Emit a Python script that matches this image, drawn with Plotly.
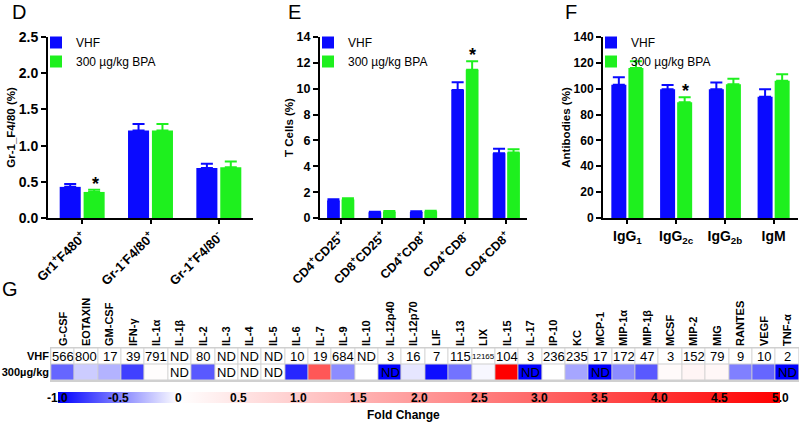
import plotly.graph_objects as go

# ---------------- data ----------------
D_cats = ["Gr1<sup>+</sup>F480<sup>+</sup>", "Gr-1<sup>-</sup>F4/80<sup>+</sup>", "Gr-1<sup>+</sup>F4/80<sup>-</sup>"]
D_vhf = [0.43, 1.21, 0.69]
D_vhf_err = [0.04, 0.09, 0.06]
D_bpa = [0.36, 1.21, 0.70]
D_bpa_err = [0.03, 0.09, 0.08]

E_cats = ["CD4<sup>+</sup>CD25<sup>+</sup>", "CD8<sup>+</sup>CD25<sup>+</sup>", "CD4<sup>+</sup>CD8<sup>+</sup>",
          "CD4<sup>+</sup>CD8<sup>-</sup>", "CD4<sup>-</sup>CD8<sup>+</sup>"]
E_vhf = [1.35, 0.44, 0.47, 9.9, 5.0]
E_vhf_err = [0.1, 0.05, 0.05, 0.6, 0.35]
E_bpa = [1.43, 0.49, 0.52, 11.46, 5.06]
E_bpa_err = [0.1, 0.05, 0.05, 0.67, 0.25]

F_cats = ["IgG<sub>1</sub>", "IgG<sub>2c</sub>", "IgG<sub>2b</sub>", "IgM"]
F_vhf = [103.1, 99.6, 99.6, 93.7]
F_vhf_err = [5.7, 3.3, 5.3, 5.9]
F_bpa = [116.0, 89.6, 103.4, 106.2]
F_bpa_err = [5.3, 3.8, 4.4, 4.9]

G_cyto = ["G-CSF", "EOTAXIN", "GM-CSF", "IFN-γ", "IL-1α", "IL-1β", "IL-2", "IL-3", "IL-4", "IL-5",
          "IL-6", "IL-7", "IL-9", "IL-10", "IL-12p40", "IL-12p70", "LIF", "IL-13", "LIX", "IL-15",
          "IL-17", "IP-10", "KC", "MCP-1", "MIP-1α", "MIP-1β", "MCSF", "MIP-2", "MIG", "RANTES",
          "VEGF", "TNF-α"]
G_vhf_text = ["566", "800", "17", "39", "791", "ND", "80", "ND", "ND", "ND",
              "10", "19", "684", "ND", "3", "16", "7", "115", "12165", "104",
              "3", "236", "235", "17", "172", "47", "3", "152", "79", "9",
              "10", "2"]
G_fold = [-0.6, -0.2, -0.3, -0.75, 0.03, 0.0, -0.65, 0.0, 0.0, 0.0,
          -0.85, 3.3, -0.45, 0.0, -1.0, -0.1, -0.95, -0.55, -0.03, 5.0,
          -1.0, 0.0, -0.35, -1.0, -0.45, -0.65, 0.1, 0.2, 0.15, -0.5,
          -0.6, -1.0]
G_bpa_text = ["", "", "", "", "", "ND", "", "ND", "ND", "ND",
              "", "", "", "", "ND", "", "", "", "", "",
              "ND", "", "", "ND", "", "", "", "", "", "",
              "", "ND"]
G_rows = ["VHF", "300µg/kg"]
CB_ticks = [-1.0, -0.5, 0, 0.5, 1.0, 1.5, 2.0, 2.5, 3.0, 3.5, 4.0, 4.5, 5.0]
CB_text = ["-1.0", "-0.5", "0", "0.5", "1.0", "1.5", "2.0", "2.5", "3.0", "3.5", "4.0", "4.5", "5.0"]

BLUE = "#0a0aff"
GREEN = "#1ef01e"
FONT = "Liberation Sans, Arial, sans-serif"

W, H = 800, 423
def px(x):
    return x / W
def py(y):
    return 1 - y / H

fig = go.Figure()

panels = [
    ("x", "y", "legend", D_cats, D_vhf, D_vhf_err, D_bpa, D_bpa_err),
    ("x2", "y2", "legend2", E_cats, E_vhf, E_vhf_err, E_bpa, E_bpa_err),
    ("x3", "y3", "legend3", F_cats, F_vhf, F_vhf_err, F_bpa, F_bpa_err),
]
for xa, ya, lg, cats, v, ve, b, be in panels:
    fig.add_trace(go.Bar(x=cats, y=v, name="VHF", marker=dict(color=BLUE, line=dict(width=0)),
                         error_y=dict(type="data", symmetric=False, array=ve, arrayminus=[0] * len(v),
                                      color=BLUE, thickness=2, width=6),
                         xaxis=xa, yaxis=ya, legend=lg))
    fig.add_trace(go.Bar(x=cats, y=b, name="300 µg/kg BPA", marker=dict(color=GREEN, line=dict(width=0)),
                         error_y=dict(type="data", symmetric=False, array=be, arrayminus=[0] * len(b),
                                      color=GREEN, thickness=2, width=6),
                         xaxis=xa, yaxis=ya, legend=lg))

# heatmap
z = [[0] * len(G_cyto), G_fold]
fig.add_trace(go.Heatmap(
    x=G_cyto, y=G_rows, z=z, xaxis="x4", yaxis="y4", zmin=-1, zmax=5,
    colorscale=[[0, "rgb(0,0,255)"], [1 / 6, "rgb(255,255,255)"], [1, "rgb(255,0,0)"]],
    xgap=1, ygap=1, hoverinfo="skip",
    colorbar=dict(orientation="h", x=px(419), xanchor="center", y=py(392), yanchor="top",
                  xpad=0, ypad=0,
                  len=px(722), lenmode="fraction", thickness=11, outlinewidth=0,
                  tickmode="array", tickvals=[], ticks="",
                  tickfont=dict(size=12, color="black", family=FONT)),
))

# invisible trace holding the scale that places the colorbar tick labels
fig.add_trace(go.Scatter(x=[CB_ticks[0], CB_ticks[-1]], y=[0.5, 0.5], mode="markers",
                         marker=dict(opacity=0, size=1), xaxis="x5", yaxis="y5",
                         showlegend=False, hoverinfo="skip"))

annotations = []
for i, c in enumerate(G_cyto):
    t = G_vhf_text[i]
    annotations.append(dict(x=c, y=G_rows[0], xref="x4", yref="y4", text=t, showarrow=False,
                            font=dict(size=8 if len(t) > 3 else 13, color="black", family=FONT)))
    if G_bpa_text[i]:
        annotations.append(dict(x=c, y=G_rows[1], xref="x4", yref="y4", text=G_bpa_text[i],
                                showarrow=False, font=dict(size=13, color="black", family=FONT)))

for t, s in zip(CB_ticks, CB_text):
    annotations.append(dict(x=t, y=0.5, xref="x5", yref="y5", text=s, showarrow=False,
                            font=dict(size=12, color="black", family=FONT, weight="bold")))

annotations.append(dict(x=px(403), y=py(415), xref="paper", yref="paper", text="Fold Change",
                        showarrow=False, xanchor="center", yanchor="middle",
                        font=dict(size=12, color="black", family=FONT, weight="bold")))

# stars
for xa, ya, cats, vals, errs, idx, shift in [
    ("x", "y", D_cats, D_bpa, D_bpa_err, 0, 13),
    ("x2", "y2", E_cats, E_bpa, E_bpa_err, 3, 8),
    ("x3", "y3", F_cats, F_bpa, F_bpa_err, 1, 9),
]:
    annotations.append(dict(x=cats[idx], y=vals[idx] + errs[idx], xref=xa, yref=ya, text="*",
                            showarrow=False, xshift=shift, yanchor="bottom", yshift=-6,
                            font=dict(size=18, color="black", family=FONT, weight="bold")))

for letter, x, y in [("D", 19, 12), ("E", 294, 12), ("F", 571, 12), ("G", 10, 289)]:
    annotations.append(dict(x=px(x), y=py(y), xref="paper", yref="paper", text=letter, showarrow=False,
                            xanchor="center", yanchor="middle",
                            font=dict(size=20, color="black", family=FONT)))

titlef = dict(size=11.5, color="black", family=FONT, weight="bold")

def xax(dom, angle, size):
    return dict(domain=dom, showline=True, linecolor="black", linewidth=2, ticks="outside",
                ticklen=4, tickwidth=1.5, tickcolor="black", tickangle=angle, showgrid=False,
                automargin=False,
                tickfont=dict(size=size, color="black", family=FONT, weight="bold"))

def yax(dom, rng, dtick, title, fmt, size):
    return dict(domain=dom, range=rng, dtick=dtick, tickformat=fmt, showline=True, linecolor="black",
                linewidth=2, ticks="outside", ticklen=5, tickwidth=1.5, tickcolor="black",
                showgrid=False, zeroline=False, automargin=False,
                tickfont=dict(size=size, color="black", family=FONT, weight="bold"),
                title=dict(text=title, font=titlef, standoff=1))

ydom = [py(218), py(37)]
leg = dict(font=dict(size=12, color="black", family=FONT), bgcolor="rgba(0,0,0,0)",
           yanchor="top", xanchor="left", tracegroupgap=0, itemwidth=30)

fig.update_layout(
    width=W, height=H, margin=dict(l=0, r=0, t=0, b=0, autoexpand=False),
    paper_bgcolor="white", plot_bgcolor="white",
    font=dict(family=FONT, color="black"),
    barmode="group", bargap=0.3, bargroupgap=0.12,
    xaxis=dict(**xax([px(48), px(253)], -45, 13), anchor="y"),
    yaxis=dict(**yax(ydom, [0, 2.5], 0.5, "Gr-1_F4/80 (%)", ".1f", 14), anchor="x"),
    xaxis2=dict(**xax([px(320), px(527)], -45, 12.5), anchor="y2"),
    yaxis2=dict(**yax(ydom, [0, 14], 2, "T Cells (%)", "d", 12.5), anchor="x2"),
    xaxis3=dict(**xax([px(603), px(798)], 0, 14), anchor="y3"),
    yaxis3=dict(**yax(ydom, [0, 140], 20, "Antibodies (%)", "d", 12), anchor="x3"),
    xaxis4=dict(domain=[px(50), px(799)], anchor="y4", side="top", tickangle=-90, showgrid=False,
                ticks="", showline=False, zeroline=False, automargin=False,
                tickfont=dict(size=11, color="black", family=FONT, weight="bold")),
    yaxis4=dict(domain=[py(382), py(347)], anchor="x4", autorange="reversed", showgrid=False,
                ticks="", showline=False, zeroline=False, automargin=False,
                tickfont=dict(size=11, color="black", family=FONT, weight="bold")),
    xaxis5=dict(domain=[px(58), px(780)], anchor="y5", range=[-1, 5], visible=False),
    yaxis5=dict(domain=[py(404), py(391)], anchor="x5", range=[0, 1], visible=False),
    legend=dict(**leg, x=px(36), y=py(28)),
    legend2=dict(**leg, x=px(308), y=py(28)),
    legend3=dict(**leg, x=px(591), y=py(28)),
    annotations=annotations,
    shapes=[dict(type="rect", xref="x4 domain", yref="y4 domain", x0=0, x1=1, y0=0, y1=1,
                 fillcolor="#d0d0d0", line=dict(width=0), layer="below")],
)

fig.write_html("out.html", config={"displayModeBar": False},
               post_script="document.body.style.margin='0';")
